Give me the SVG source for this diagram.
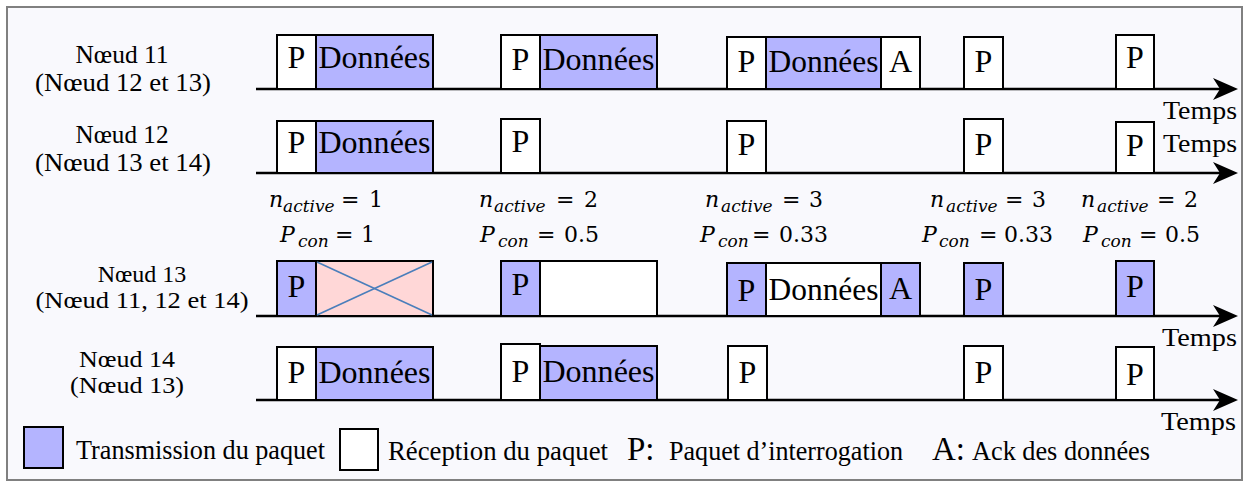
<svg xmlns="http://www.w3.org/2000/svg" width="1247" height="487" viewBox="0 0 1247 487">
<style>
.t{font-family:"Liberation Serif","Times New Roman",serif;fill:#000}
.lbl{font-size:26px;text-anchor:middle}
.lbl2{font-size:24px;text-anchor:middle}
.bx{font-size:32px;text-anchor:middle}
.tm{font-size:26px;text-anchor:end}
.lg{font-size:28px}
.lgb{font-size:33px}
.w{fill:#ffffff;stroke:#000;stroke-width:2}
.b{fill:#b4b4ff;stroke:#000;stroke-width:2}
.k{fill:#ffd7d7;stroke:#000;stroke-width:2}
.ax{stroke:#000;stroke-width:2.6;fill:none}
.m{font-family:"DejaVu Serif",serif;font-size:22px;fill:#000}
.mi{font-style:italic}
.sb{font-size:17px;font-style:italic}
</style>
<defs>
<path id="ah" d="M0,0 L-25,-11 L-18,0 L-25,11 Z" fill="#000"/>
</defs>
<rect x="0" y="0" width="1247" height="487" fill="#ffffff"/>
<rect x="7" y="7" width="1235" height="473" fill="#f9f9fd" stroke="#808080" stroke-width="2"/>

<g id="connectors">
<line class="ax" x1="256" y1="89" x2="1226" y2="89"/>
<use href="#ah" transform="translate(1238,89)"/>
<line class="ax" x1="256" y1="173" x2="1226" y2="173"/>
<use href="#ah" transform="translate(1238,173)"/>
<line class="ax" x1="256" y1="316" x2="1226" y2="316"/>
<use href="#ah" transform="translate(1238,316)"/>
<line class="ax" x1="256" y1="400" x2="1226" y2="400"/>
<use href="#ah" transform="translate(1238,400)"/>
</g>

<g id="node11">
<text class="t lbl" x="122" y="63" textLength="93" lengthAdjust="spacingAndGlyphs">Nœud 11</text>
<text class="t lbl" x="123" y="91" textLength="176" lengthAdjust="spacingAndGlyphs">(Nœud 12 et 13)</text>
<rect class="w" x="277" y="35" width="39" height="54"/>
<rect class="b" x="316" y="35" width="117" height="54"/>
<text class="t bx" x="296.5" y="68">P</text>
<text class="t bx" x="374.5" y="68" textLength="112" lengthAdjust="spacingAndGlyphs">Données</text>
<rect class="w" x="501" y="35" width="39" height="54"/>
<rect class="b" x="540" y="35" width="117" height="54"/>
<text class="t bx" x="520.5" y="70">P</text>
<text class="t bx" x="598.5" y="70" textLength="112" lengthAdjust="spacingAndGlyphs">Données</text>
<rect class="w" x="727" y="37" width="39" height="52"/>
<rect class="b" x="766" y="37" width="115" height="52"/>
<rect class="w" x="881" y="37" width="39" height="52"/>
<text class="t bx" x="746.5" y="72">P</text>
<text class="t bx" x="823.5" y="72" textLength="110" lengthAdjust="spacingAndGlyphs">Données</text>
<text class="t bx" x="900.5" y="72">A</text>
<rect class="w" x="964" y="37" width="39" height="52"/>
<text class="t bx" x="983.5" y="72">P</text>
<rect class="w" x="1116" y="35" width="38" height="54"/>
<text class="t bx" x="1135" y="68">P</text>
<text class="t tm" x="1237" y="119" textLength="74" lengthAdjust="spacingAndGlyphs">Temps</text>
</g>

<g id="node12">
<text class="t lbl" x="122" y="143" textLength="93" lengthAdjust="spacingAndGlyphs">Nœud 12</text>
<text class="t lbl" x="123" y="171" textLength="176" lengthAdjust="spacingAndGlyphs">(Nœud 13 et 14)</text>
<rect class="w" x="277" y="121" width="39" height="52"/>
<rect class="b" x="316" y="121" width="117" height="52"/>
<text class="t bx" x="296.5" y="153">P</text>
<text class="t bx" x="374.5" y="153" textLength="112" lengthAdjust="spacingAndGlyphs">Données</text>
<rect class="w" x="501" y="119" width="39" height="54"/>
<text class="t bx" x="520.5" y="152">P</text>
<rect class="w" x="727" y="121" width="39" height="52"/>
<text class="t bx" x="746.5" y="155">P</text>
<rect class="w" x="964" y="119" width="39" height="54"/>
<text class="t bx" x="983.5" y="155">P</text>
<rect class="w" x="1116" y="122" width="38" height="51"/>
<text class="t bx" x="1135" y="156">P</text>
<text class="t tm" x="1237" y="152" textLength="74" lengthAdjust="spacingAndGlyphs">Temps</text>
</g>

<g id="annotations">
<text class="m"><tspan class="mi" x="269" y="207">n</tspan><tspan class="sb" x="283" y="212">active</tspan><tspan x="341" y="207">=</tspan><tspan x="369" y="207">1</tspan></text>
<text class="m"><tspan class="mi" x="280" y="242">P</tspan><tspan class="sb" x="298" y="247">con</tspan><tspan x="335" y="242">=</tspan><tspan x="361" y="242">1</tspan></text>
<text class="m"><tspan class="mi" x="479" y="207">n</tspan><tspan class="sb" x="494" y="212">active</tspan><tspan x="556" y="207">=</tspan><tspan x="584" y="207">2</tspan></text>
<text class="m"><tspan class="mi" x="480" y="242">P</tspan><tspan class="sb" x="498" y="247">con</tspan><tspan x="537" y="242">=</tspan><tspan x="564" y="242">0.5</tspan></text>
<text class="m"><tspan class="mi" x="705" y="207">n</tspan><tspan class="sb" x="721" y="212">active</tspan><tspan x="782" y="207">=</tspan><tspan x="809" y="207">3</tspan></text>
<text class="m"><tspan class="mi" x="700" y="242">P</tspan><tspan class="sb" x="718" y="247">con</tspan><tspan x="752" y="242">=</tspan><tspan x="779" y="242">0.33</tspan></text>
<text class="m"><tspan class="mi" x="930" y="207">n</tspan><tspan class="sb" x="946" y="212">active</tspan><tspan x="1005" y="207">=</tspan><tspan x="1032" y="207">3</tspan></text>
<text class="m"><tspan class="mi" x="922" y="242">P</tspan><tspan class="sb" x="939" y="247">con</tspan><tspan x="979" y="242">=</tspan><tspan x="1004" y="242">0.33</tspan></text>
<text class="m"><tspan class="mi" x="1081" y="207">n</tspan><tspan class="sb" x="1097" y="212">active</tspan><tspan x="1157" y="207">=</tspan><tspan x="1184" y="207">2</tspan></text>
<text class="m"><tspan class="mi" x="1083" y="242">P</tspan><tspan class="sb" x="1101" y="247">con</tspan><tspan x="1139" y="242">=</tspan><tspan x="1165" y="242">0.5</tspan></text>
</g>

<g id="node13">
<text class="t lbl2" x="142" y="282">Nœud 13</text>
<text class="t lbl2" x="142" y="308" textLength="213" lengthAdjust="spacingAndGlyphs">(Nœud 11, 12 et 14)</text>
<rect class="b" x="277" y="261" width="39" height="55"/>
<rect class="k" x="316" y="261" width="117" height="55"/>
<line x1="317" y1="262" x2="432" y2="315" stroke="#4a7ebb" stroke-width="1.6"/>
<line x1="317" y1="315" x2="432" y2="262" stroke="#4a7ebb" stroke-width="1.6"/>
<text class="t bx" x="296.5" y="297">P</text>
<rect class="b" x="501" y="261" width="39" height="55"/>
<rect class="w" x="540" y="261" width="117" height="55"/>
<text class="t bx" x="520.5" y="295">P</text>
<rect class="b" x="727" y="263" width="39" height="53"/>
<rect class="w" x="766" y="263" width="115" height="53"/>
<rect class="b" x="881" y="263" width="39" height="53"/>
<text class="t bx" x="746.5" y="301">P</text>
<text class="t bx" x="823.5" y="300" textLength="110" lengthAdjust="spacingAndGlyphs">Données</text>
<text class="t bx" x="900.5" y="299">A</text>
<rect class="b" x="964" y="263" width="39" height="53"/>
<text class="t bx" x="983.5" y="300">P</text>
<rect class="b" x="1116" y="261" width="38" height="55"/>
<text class="t bx" x="1135" y="297">P</text>
<text class="t tm" x="1237" y="346" textLength="75" lengthAdjust="spacingAndGlyphs">Temps</text>
</g>

<g id="node14">
<text class="t lbl2" x="127" y="367" textLength="96" lengthAdjust="spacingAndGlyphs">Nœud 14</text>
<text class="t lbl2" x="127" y="393" textLength="114" lengthAdjust="spacingAndGlyphs">(Nœud 13)</text>
<rect class="w" x="277" y="347" width="39" height="53"/>
<rect class="b" x="316" y="347" width="117" height="53"/>
<text class="t bx" x="296.5" y="383">P</text>
<text class="t bx" x="374.5" y="383" textLength="112" lengthAdjust="spacingAndGlyphs">Données</text>
<rect class="b" x="540" y="346" width="117" height="54"/>
<rect class="w" x="501" y="344" width="39" height="56"/>
<text class="t bx" x="520.5" y="382">P</text>
<text class="t bx" x="598.5" y="382" textLength="112" lengthAdjust="spacingAndGlyphs">Données</text>
<rect class="w" x="728" y="346" width="39" height="54"/>
<text class="t bx" x="747.5" y="383">P</text>
<rect class="w" x="964" y="346" width="39" height="54"/>
<text class="t bx" x="983.5" y="383">P</text>
<rect class="w" x="1116" y="347" width="38" height="53"/>
<text class="t bx" x="1135" y="385">P</text>
<text class="t tm" x="1236" y="430" textLength="75" lengthAdjust="spacingAndGlyphs">Temps</text>
</g>

<g id="legend">
<rect class="b" x="24" y="427" width="39" height="41"/>
<text class="t lg" x="76" y="459" textLength="249" lengthAdjust="spacingAndGlyphs">Transmission du paquet</text>
<rect class="w" x="340" y="429" width="38" height="41"/>
<text class="t lg" x="388" y="460" textLength="220" lengthAdjust="spacingAndGlyphs">Réception du paquet</text>
<text class="t lgb" x="627" y="460">P:</text>
<text class="t lg" x="669" y="460" textLength="234" lengthAdjust="spacingAndGlyphs">Paquet d’interrogation</text>
<text class="t lgb" x="932" y="460">A:</text>
<text class="t lg" x="972" y="460" textLength="178" lengthAdjust="spacingAndGlyphs">Ack des données</text>
</g>
</svg>
